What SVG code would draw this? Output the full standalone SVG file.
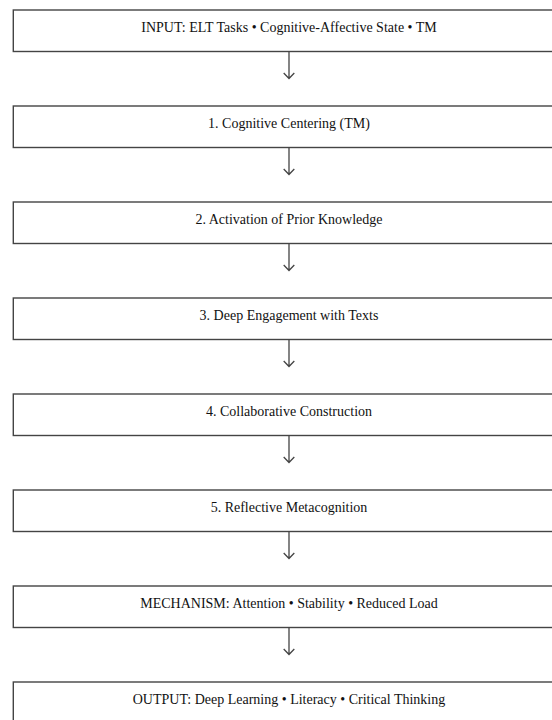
<svg xmlns="http://www.w3.org/2000/svg" width="552" height="720" viewBox="0 0 552 720">
<style>
.box{fill:#fff;stroke:#444;stroke-width:1.4}
.lbl{font-family:"Liberation Serif","Times New Roman",serif;font-size:14px;fill:#111;text-anchor:middle}
.con{stroke:#444;stroke-width:1.3;fill:none}
</style>
<rect x="0" y="0" width="552" height="720" fill="#fff"/>
<g id="n1"><rect class="box" x="13.3" y="10" width="560" height="41.5"/><text class="lbl" x="289" y="31.7">INPUT: ELT Tasks • Cognitive-Affective State • TM</text></g>
<g id="n2"><rect class="box" x="13.3" y="106" width="560" height="41.5"/><text class="lbl" x="289" y="127.7">1. Cognitive Centering (TM)</text></g>
<g id="n3"><rect class="box" x="13.3" y="202" width="560" height="41.5"/><text class="lbl" x="289" y="223.7">2. Activation of Prior Knowledge</text></g>
<g id="n4"><rect class="box" x="13.3" y="298" width="560" height="41.5"/><text class="lbl" x="289" y="319.7">3. Deep Engagement with Texts</text></g>
<g id="n5"><rect class="box" x="13.3" y="394" width="560" height="41.5"/><text class="lbl" x="289" y="415.7">4. Collaborative Construction</text></g>
<g id="n6"><rect class="box" x="13.3" y="490" width="560" height="41.5"/><text class="lbl" x="289" y="511.7">5. Reflective Metacognition</text></g>
<g id="n7"><rect class="box" x="13.3" y="586" width="560" height="41.5"/><text class="lbl" x="289" y="607.7">MECHANISM: Attention • Stability • Reduced Load</text></g>
<g id="n8"><rect class="box" x="13.3" y="682" width="560" height="60"/><text class="lbl" x="289" y="703.5">OUTPUT: Deep Learning • Literacy • Critical Thinking</text></g>
<g id="connectors">
<path class="con" d="M289 51.5V78.5M283.7 73L289 78.5L294.3 73"/>
<path class="con" d="M289 147.5V174.5M283.7 169L289 174.5L294.3 169"/>
<path class="con" d="M289 243.5V270.5M283.7 265L289 270.5L294.3 265"/>
<path class="con" d="M289 339.5V366.5M283.7 361L289 366.5L294.3 361"/>
<path class="con" d="M289 435.5V462.5M283.7 457L289 462.5L294.3 457"/>
<path class="con" d="M289 531.5V558.5M283.7 553L289 558.5L294.3 553"/>
<path class="con" d="M289 627.5V654.5M283.7 649L289 654.5L294.3 649"/>
</g>
</svg>
